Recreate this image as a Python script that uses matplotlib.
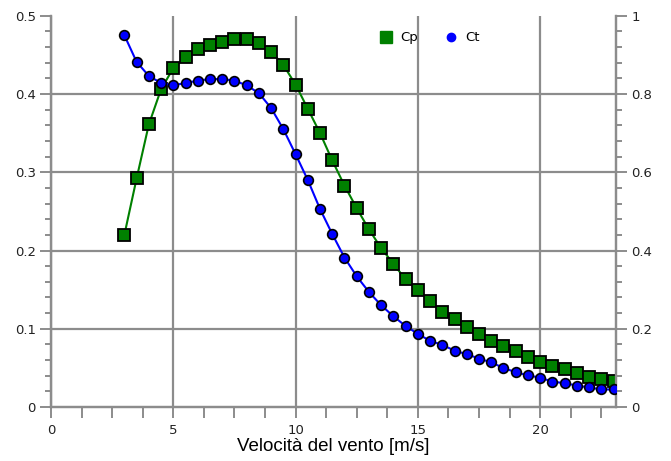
import numpy as np
import matplotlib
matplotlib.use("Agg")
import matplotlib.pyplot as plt
from matplotlib.ticker import MultipleLocator, FuncFormatter, FixedLocator
from matplotlib.lines import Line2D

# wind speed [m/s]
vento = np.arange(3.0, 23.01, 0.5)

cp = [0.220, 0.292, 0.361, 0.406, 0.433, 0.447, 0.457, 0.462, 0.467, 0.470,
      0.470, 0.465, 0.454, 0.437, 0.412, 0.381, 0.350, 0.315, 0.283, 0.254,
      0.227, 0.203, 0.183, 0.163, 0.149, 0.135, 0.122, 0.112, 0.102, 0.093,
      0.085, 0.078, 0.071, 0.064, 0.058, 0.052, 0.048, 0.044, 0.039, 0.036,
      0.033]

ct = [0.950, 0.882, 0.846, 0.828, 0.822, 0.828, 0.834, 0.838, 0.838, 0.834,
      0.822, 0.802, 0.764, 0.710, 0.646, 0.580, 0.506, 0.442, 0.382, 0.334,
      0.294, 0.260, 0.232, 0.207, 0.187, 0.169, 0.159, 0.144, 0.135, 0.124,
      0.114, 0.100, 0.089, 0.081, 0.075, 0.065, 0.061, 0.055, 0.050, 0.045,
      0.045]

# inner grid levels (no line on the open top edge)
griglia_y = [0.1, 0.2, 0.3, 0.4]

grigio = "#8c8c8c"
plt.rcParams['font.family'] = ['DejaVu Sans']

fig = plt.figure(figsize=(6.71, 4.61), dpi=100, facecolor="white")
pos = [0.076, 0.117, 0.842, 0.849]

# background axes only for the horizontal grid
axg = fig.add_axes(pos, frameon=False, zorder=-1)
axg.set_xlim(0, 23.1)
axg.set_ylim(0, 0.5)
axg.yaxis.set_major_locator(FixedLocator(griglia_y))
axg.set_xticks([])
axg.grid(True, axis="y", color=grigio, lw=1.6)
axg.tick_params(left=False, labelleft=False)

ax = fig.add_axes(pos)
ax.patch.set_visible(False)
ax2 = ax.twinx()

ax.plot(vento, cp, color="#008000", lw=1.5, marker="s", ms=9,
        mfc="#008000", mec="black", mew=1.3, zorder=3)
ax2.plot(vento, ct, color="#0000ff", lw=1.5, marker="o", ms=7,
         mfc="#0000ff", mec="black", mew=1.2, zorder=3)

ax.set_xlim(0, 23.1)
ax.set_ylim(0, 0.5)
ax2.set_ylim(0, 1)

fmt = FuncFormatter(lambda v, p: f"{v:g}")
ax.xaxis.set_major_locator(MultipleLocator(5))
ax.xaxis.set_minor_locator(MultipleLocator(1.25))
ax.yaxis.set_major_locator(MultipleLocator(0.1))
ax.yaxis.set_minor_locator(MultipleLocator(0.02))
ax2.yaxis.set_major_locator(MultipleLocator(0.2))
ax2.yaxis.set_minor_locator(MultipleLocator(0.04))
ax.xaxis.set_major_formatter(fmt)
ax.yaxis.set_major_formatter(fmt)
ax2.yaxis.set_major_formatter(fmt)

ax.grid(True, axis="x", which="major", color=grigio, lw=1.6)

for a in (ax, ax2):
    for s in a.spines.values():
        s.set_color(grigio)
        s.set_linewidth(1.6)
    a.tick_params(which="major", length=8, width=1.4, color=grigio,
                  labelsize=9.5, labelcolor="#222222", pad=3)
    a.tick_params(which="minor", length=4, width=1.4, color=grigio)
ax.tick_params(axis="x", which="minor", length=8)
ax.tick_params(axis="x", which="major", pad=4)
ax.xaxis.set_ticks_position("bottom")

ax.set_xlabel("Velocità del vento [m/s]", fontsize=13.5,
              family="Liberation Sans", labelpad=1)

handles = [Line2D([], [], ls="none", marker="s", ms=8, mfc="#008000", mec="#008000"),
           Line2D([], [], ls="none", marker="o", ms=6, mfc="#0000ff", mec="#0000ff")]
leg = ax2.legend(handles, ["Cp", "Ct"], loc="upper left", bbox_to_anchor=(0.56, 0.99),
                 ncol=2, frameon=False, fontsize=9.5, handletextpad=0.6,
                 columnspacing=2.0, handlelength=1.0)

# open top edge
for a in (ax, ax2):
    a.spines["top"].set_visible(False)

fig.savefig("out.png", dpi=100)
